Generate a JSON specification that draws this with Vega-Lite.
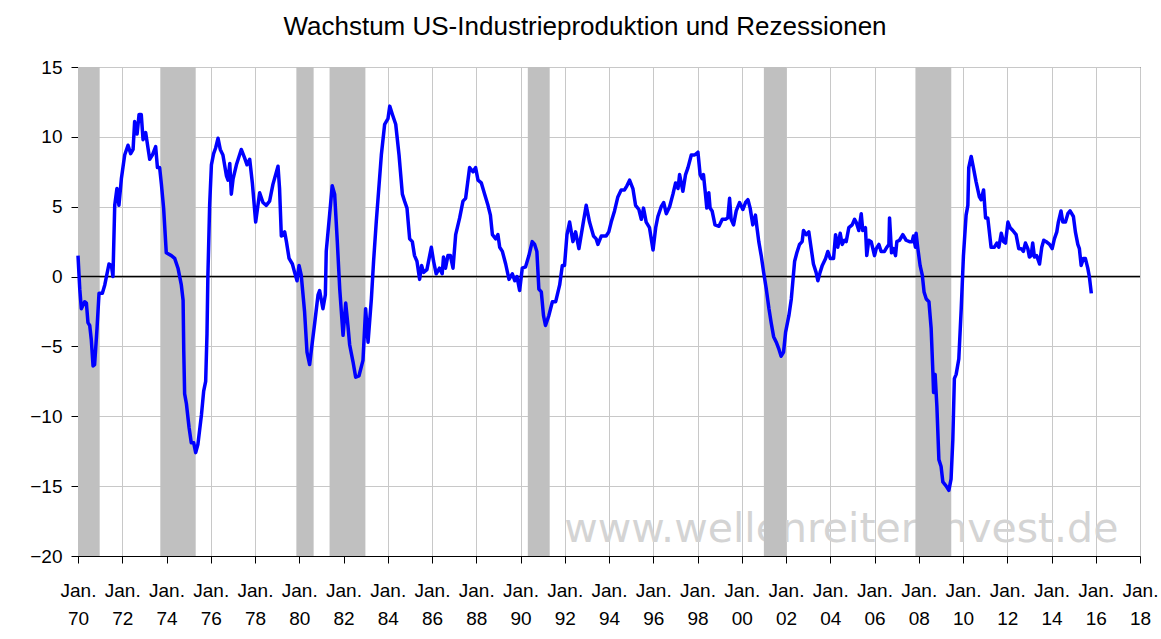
{
  "$schema": "https://vega.github.io/schema/vega-lite/v6.json",
  "width": 1062,
  "height": 489,
  "autosize": "none",
  "padding": {"left": 78, "top": 67, "right": 21, "bottom": 83},
  "background": "white",
  "title": {
    "text": "Wachstum US-Industrieproduktion und Rezessionen",
    "font": "Liberation Sans",
    "fontSize": 26,
    "fontWeight": "normal",
    "color": "black",
    "anchor": "middle",
    "baseline": "alphabetic",
    "offset": 33,
    "dy": 36,
    "dx": -24
  },
  "config": {
    "view": {"stroke": "black", "strokeWidth": 1},
    "axis": {
      "labelFont": "Liberation Sans",
      "labelFontSize": 19,
      "labelColor": "black",
      "domainColor": "black",
      "domainWidth": 1,
      "tickColor": "black",
      "tickSize": 7,
      "gridColor": "#c8c8c8",
      "gridWidth": 1
    }
  },
  "datasets": {
    "rez": [
      {"start": 1970.0, "end": 1970.98},
      {"start": 1973.72, "end": 1975.32},
      {"start": 1979.87, "end": 1980.65},
      {"start": 1981.37, "end": 1982.99},
      {"start": 1990.33, "end": 1991.32},
      {"start": 2001.0, "end": 2002.01},
      {"start": 2007.85, "end": 2009.47}
    ],
    "ip": [
      {"t":1970.00,"v":1.5},{"t":1970.08,"v":-0.9},{"t":1970.15,"v":-2.3},{"t":1970.30,"v":-1.8},{"t":1970.38,"v":-1.9},{"t":1970.45,"v":-3.3},{"t":1970.53,"v":-3.5},{"t":1970.60,"v":-4.5},{"t":1970.68,"v":-6.4},{"t":1970.75,"v":-6.3},{"t":1970.86,"v":-3.7},{"t":1970.95,"v":-1.2},
      {"t":1971.10,"v":-1.2},{"t":1971.21,"v":-0.6},{"t":1971.40,"v":0.9},{"t":1971.51,"v":0.8},{"t":1971.58,"v":0.0},{"t":1971.66,"v":5.1},{"t":1971.76,"v":6.3},{"t":1971.85,"v":5.1},{"t":1971.96,"v":7.0},
      {"t":1972.11,"v":8.7},{"t":1972.26,"v":9.4},{"t":1972.38,"v":8.8},{"t":1972.49,"v":9.1},{"t":1972.56,"v":11.1},{"t":1972.67,"v":10.2},{"t":1972.76,"v":11.6},{"t":1972.86,"v":11.6},{"t":1972.94,"v":9.8},
      {"t":1973.06,"v":10.3},{"t":1973.24,"v":8.4},{"t":1973.36,"v":8.7},{"t":1973.51,"v":9.3},{"t":1973.59,"v":7.8},{"t":1973.69,"v":7.8},{"t":1973.77,"v":6.6},{"t":1973.87,"v":4.9},{"t":1973.99,"v":1.7},
      {"t":1974.22,"v":1.5},{"t":1974.37,"v":1.3},{"t":1974.52,"v":0.6},{"t":1974.67,"v":-0.6},{"t":1974.75,"v":-1.7},{"t":1974.78,"v":-5.3},{"t":1974.82,"v":-8.4},{"t":1974.90,"v":-9.1},
      {"t":1975.02,"v":-10.8},{"t":1975.12,"v":-11.9},{"t":1975.23,"v":-11.9},{"t":1975.32,"v":-12.6},{"t":1975.42,"v":-12.0},{"t":1975.58,"v":-9.9},{"t":1975.68,"v":-8.2},{"t":1975.77,"v":-7.5},{"t":1975.83,"v":-4.1},{"t":1975.87,"v":0.0},{"t":1975.90,"v":1.9},{"t":1975.95,"v":5.1},
      {"t":1976.03,"v":8.0},{"t":1976.13,"v":8.8},{"t":1976.22,"v":9.2},{"t":1976.33,"v":9.9},{"t":1976.43,"v":9.1},{"t":1976.55,"v":8.7},{"t":1976.71,"v":7.2},{"t":1976.78,"v":6.9},{"t":1976.86,"v":8.1},{"t":1976.93,"v":5.9},
      {"t":1977.01,"v":7.0},{"t":1977.16,"v":8.0},{"t":1977.38,"v":9.1},{"t":1977.53,"v":8.5},{"t":1977.64,"v":8.0},{"t":1977.76,"v":8.4},{"t":1977.88,"v":6.7},
      {"t":1978.03,"v":3.9},{"t":1978.21,"v":6.0},{"t":1978.36,"v":5.3},{"t":1978.51,"v":5.1},{"t":1978.66,"v":5.4},{"t":1978.81,"v":6.6},
      {"t":1979.04,"v":7.9},{"t":1979.11,"v":6.3},{"t":1979.19,"v":2.9},{"t":1979.34,"v":3.2},{"t":1979.42,"v":2.5},{"t":1979.54,"v":1.3},{"t":1979.69,"v":0.9},{"t":1979.79,"v":0.3},{"t":1979.90,"v":-0.3},{"t":1979.99,"v":0.8},
      {"t":1980.09,"v":0.1},{"t":1980.24,"v":-2.5},{"t":1980.35,"v":-5.4},{"t":1980.47,"v":-6.3},{"t":1980.59,"v":-4.7},{"t":1980.70,"v":-3.3},{"t":1980.85,"v":-1.3},{"t":1980.92,"v":-1.0},
      {"t":1981.07,"v":-2.3},{"t":1981.18,"v":-1.3},{"t":1981.22,"v":1.8},{"t":1981.37,"v":4.4},{"t":1981.49,"v":6.5},{"t":1981.60,"v":5.9},{"t":1981.72,"v":2.5},{"t":1981.83,"v":-0.9},{"t":1981.98,"v":-4.2},
      {"t":1982.10,"v":-1.9},{"t":1982.20,"v":-3.5},{"t":1982.28,"v":-4.9},{"t":1982.43,"v":-6.1},{"t":1982.55,"v":-7.2},{"t":1982.70,"v":-7.1},{"t":1982.88,"v":-6.0},
      {"t":1983.00,"v":-2.3},{"t":1983.11,"v":-4.7},{"t":1983.26,"v":-1.6},{"t":1983.36,"v":1.1},{"t":1983.48,"v":3.9},{"t":1983.71,"v":8.7},{"t":1983.86,"v":10.9},
      {"t":1984.01,"v":11.3},{"t":1984.09,"v":12.2},{"t":1984.21,"v":11.6},{"t":1984.36,"v":10.9},{"t":1984.51,"v":8.7},{"t":1984.66,"v":5.9},{"t":1984.76,"v":5.4},{"t":1984.87,"v":4.9},{"t":1984.99,"v":2.7},
      {"t":1985.11,"v":2.5},{"t":1985.21,"v":1.5},{"t":1985.32,"v":1.1},{"t":1985.44,"v":-0.2},{"t":1985.53,"v":0.8},{"t":1985.62,"v":0.3},{"t":1985.77,"v":0.5},{"t":1985.97,"v":2.1},
      {"t":1986.07,"v":1.1},{"t":1986.19,"v":0.2},{"t":1986.34,"v":0.6},{"t":1986.46,"v":0.2},{"t":1986.52,"v":1.4},{"t":1986.61,"v":0.6},{"t":1986.72,"v":1.5},{"t":1986.83,"v":1.5},{"t":1986.95,"v":0.6},
      {"t":1987.07,"v":3.0},{"t":1987.25,"v":4.2},{"t":1987.40,"v":5.4},{"t":1987.52,"v":5.6},{"t":1987.70,"v":7.8},{"t":1987.85,"v":7.5},{"t":1987.97,"v":7.8},
      {"t":1988.08,"v":6.9},{"t":1988.23,"v":6.7},{"t":1988.38,"v":5.9},{"t":1988.53,"v":5.1},{"t":1988.64,"v":4.4},{"t":1988.73,"v":3.0},{"t":1988.88,"v":2.7},{"t":1988.98,"v":3.0},
      {"t":1989.06,"v":2.1},{"t":1989.18,"v":1.8},{"t":1989.33,"v":0.9},{"t":1989.48,"v":-0.2},{"t":1989.63,"v":0.2},{"t":1989.74,"v":-0.3},{"t":1989.84,"v":0.0},{"t":1989.96,"v":-1.0},
      {"t":1990.08,"v":0.6},{"t":1990.23,"v":0.7},{"t":1990.38,"v":1.5},{"t":1990.53,"v":2.5},{"t":1990.64,"v":2.3},{"t":1990.74,"v":1.8},{"t":1990.83,"v":-0.9},{"t":1990.94,"v":-1.1},
      {"t":1991.04,"v":-2.8},{"t":1991.13,"v":-3.5},{"t":1991.28,"v":-2.8},{"t":1991.44,"v":-1.8},{"t":1991.59,"v":-1.8},{"t":1991.77,"v":-0.6},{"t":1991.89,"v":0.8},{"t":1991.99,"v":0.8},
      {"t":1992.10,"v":3.0},{"t":1992.22,"v":3.9},{"t":1992.37,"v":2.5},{"t":1992.49,"v":3.2},{"t":1992.64,"v":2.0},{"t":1992.82,"v":3.7},{"t":1992.97,"v":5.1},
      {"t":1993.12,"v":3.9},{"t":1993.30,"v":2.9},{"t":1993.42,"v":2.7},{"t":1993.50,"v":2.3},{"t":1993.65,"v":2.9},{"t":1993.87,"v":2.9},{"t":1993.99,"v":3.2},
      {"t":1994.10,"v":3.9},{"t":1994.25,"v":4.7},{"t":1994.40,"v":5.7},{"t":1994.55,"v":6.2},{"t":1994.70,"v":6.2},{"t":1994.81,"v":6.5},{"t":1994.93,"v":6.9},
      {"t":1995.08,"v":6.3},{"t":1995.20,"v":5.1},{"t":1995.35,"v":4.8},{"t":1995.46,"v":4.1},{"t":1995.56,"v":4.9},{"t":1995.68,"v":3.9},{"t":1995.83,"v":3.5},{"t":1995.99,"v":1.9},
      {"t":1996.11,"v":3.5},{"t":1996.21,"v":4.3},{"t":1996.36,"v":5.0},{"t":1996.47,"v":5.3},{"t":1996.59,"v":4.5},{"t":1996.74,"v":5.0},{"t":1996.89,"v":5.9},
      {"t":1997.01,"v":6.7},{"t":1997.12,"v":6.3},{"t":1997.19,"v":7.3},{"t":1997.34,"v":6.1},{"t":1997.46,"v":7.3},{"t":1997.57,"v":7.8},{"t":1997.72,"v":8.7},{"t":1997.87,"v":8.7},
      {"t":1998.02,"v":8.9},{"t":1998.12,"v":7.3},{"t":1998.21,"v":7.0},{"t":1998.27,"v":7.3},{"t":1998.36,"v":5.9},{"t":1998.42,"v":4.9},{"t":1998.51,"v":6.0},{"t":1998.57,"v":4.9},{"t":1998.66,"v":4.7},{"t":1998.79,"v":3.7},{"t":1998.97,"v":3.6},
      {"t":1999.12,"v":4.1},{"t":1999.27,"v":4.1},{"t":1999.37,"v":4.2},{"t":1999.45,"v":5.6},{"t":1999.52,"v":4.1},{"t":1999.63,"v":3.7},{"t":1999.75,"v":4.7},{"t":1999.90,"v":5.3},
      {"t":2000.05,"v":4.8},{"t":2000.17,"v":5.3},{"t":2000.28,"v":5.5},{"t":2000.38,"v":4.9},{"t":2000.50,"v":3.7},{"t":2000.62,"v":4.4},{"t":2000.68,"v":3.6},{"t":2000.77,"v":2.5},{"t":2000.88,"v":1.5},{"t":2000.99,"v":0.3},
      {"t":2001.11,"v":-0.9},{"t":2001.23,"v":-2.3},{"t":2001.33,"v":-3.3},{"t":2001.44,"v":-4.3},{"t":2001.56,"v":-4.7},{"t":2001.68,"v":-5.2},{"t":2001.78,"v":-5.7},{"t":2001.89,"v":-5.4},{"t":2001.98,"v":-4.0},
      {"t":2002.13,"v":-2.8},{"t":2002.24,"v":-1.6},{"t":2002.39,"v":1.1},{"t":2002.49,"v":1.7},{"t":2002.61,"v":2.3},{"t":2002.73,"v":2.5},{"t":2002.79,"v":3.3},{"t":2002.91,"v":3.0},
      {"t":2003.03,"v":3.2},{"t":2003.14,"v":2.0},{"t":2003.24,"v":0.9},{"t":2003.36,"v":0.3},{"t":2003.44,"v":-0.3},{"t":2003.54,"v":0.3},{"t":2003.64,"v":0.8},{"t":2003.79,"v":1.3},{"t":2003.89,"v":1.8},
      {"t":2004.00,"v":1.3},{"t":2004.15,"v":1.3},{"t":2004.24,"v":3.0},{"t":2004.34,"v":2.1},{"t":2004.45,"v":3.1},{"t":2004.54,"v":2.3},{"t":2004.64,"v":2.6},{"t":2004.72,"v":2.5},{"t":2004.84,"v":3.5},{"t":2004.99,"v":3.7},
      {"t":2005.10,"v":4.1},{"t":2005.17,"v":3.9},{"t":2005.29,"v":3.3},{"t":2005.40,"v":4.5},{"t":2005.47,"v":3.3},{"t":2005.59,"v":3.5},{"t":2005.65,"v":1.5},{"t":2005.74,"v":2.6},{"t":2005.85,"v":2.5},
      {"t":2006.00,"v":1.5},{"t":2006.08,"v":2.0},{"t":2006.20,"v":2.3},{"t":2006.30,"v":1.8},{"t":2006.45,"v":1.8},{"t":2006.56,"v":2.1},{"t":2006.65,"v":2.3},{"t":2006.68,"v":4.2},{"t":2006.77,"v":1.7},{"t":2006.86,"v":2.0},{"t":2006.95,"v":1.5},
      {"t":2007.01,"v":2.5},{"t":2007.13,"v":2.6},{"t":2007.28,"v":3.0},{"t":2007.43,"v":2.6},{"t":2007.58,"v":2.5},{"t":2007.70,"v":2.5},{"t":2007.76,"v":2.9},{"t":2007.85,"v":2.1},{"t":2007.88,"v":3.1},{"t":2007.96,"v":2.0},
      {"t":2008.06,"v":0.8},{"t":2008.16,"v":0.1},{"t":2008.24,"v":-1.1},{"t":2008.34,"v":-1.6},{"t":2008.46,"v":-1.8},{"t":2008.56,"v":-3.7},{"t":2008.64,"v":-6.9},{"t":2008.67,"v":-8.3},{"t":2008.74,"v":-7.0},{"t":2008.82,"v":-9.3},{"t":2008.91,"v":-13.1},
      {"t":2009.01,"v":-13.6},{"t":2009.09,"v":-14.7},{"t":2009.24,"v":-15.0},{"t":2009.36,"v":-15.3},{"t":2009.46,"v":-14.5},{"t":2009.54,"v":-11.7},{"t":2009.61,"v":-7.3},{"t":2009.69,"v":-7.0},{"t":2009.81,"v":-5.9},{"t":2009.92,"v":-2.3},
      {"t":2010.02,"v":1.5},{"t":2010.14,"v":4.4},{"t":2010.22,"v":5.1},{"t":2010.26,"v":7.8},{"t":2010.37,"v":8.6},{"t":2010.47,"v":7.8},{"t":2010.59,"v":6.8},{"t":2010.74,"v":5.7},{"t":2010.82,"v":5.5},{"t":2010.93,"v":6.2},
      {"t":2011.02,"v":4.2},{"t":2011.12,"v":4.2},{"t":2011.27,"v":2.1},{"t":2011.42,"v":2.1},{"t":2011.53,"v":2.4},{"t":2011.62,"v":2.1},{"t":2011.73,"v":3.1},{"t":2011.83,"v":2.5},{"t":2011.92,"v":2.4},
      {"t":2012.03,"v":3.9},{"t":2012.13,"v":3.5},{"t":2012.25,"v":3.3},{"t":2012.40,"v":3.0},{"t":2012.52,"v":2.0},{"t":2012.63,"v":2.0},{"t":2012.73,"v":1.8},{"t":2012.82,"v":2.4},{"t":2012.93,"v":2.0},
      {"t":2013.00,"v":1.4},{"t":2013.08,"v":1.5},{"t":2013.15,"v":2.4},{"t":2013.23,"v":1.4},{"t":2013.33,"v":1.5},{"t":2013.46,"v":0.9},{"t":2013.56,"v":2.1},{"t":2013.65,"v":2.6},{"t":2013.76,"v":2.5},{"t":2013.91,"v":2.3},
      {"t":2014.03,"v":2.0},{"t":2014.13,"v":2.7},{"t":2014.24,"v":3.2},{"t":2014.31,"v":3.9},{"t":2014.43,"v":4.7},{"t":2014.51,"v":3.9},{"t":2014.63,"v":3.9},{"t":2014.74,"v":4.5},{"t":2014.84,"v":4.7},{"t":2014.99,"v":4.3},
      {"t":2015.08,"v":3.2},{"t":2015.19,"v":2.3},{"t":2015.26,"v":2.0},{"t":2015.34,"v":0.8},{"t":2015.44,"v":1.3},{"t":2015.53,"v":1.3},{"t":2015.64,"v":0.6},{"t":2015.71,"v":0.0},{"t":2015.80,"v":-1.2}
    ]
  },
  "layer": [
    {
      "data": {"values": [{"wm": "www.wellenreiter-invest.de"}]},
      "mark": {"type": "text", "font": "DejaVu Sans", "fontSize": 41, "color": "#d4d4d4", "align": "center", "baseline": "alphabetic"},
      "encoding": {
        "text": {"field": "wm"},
        "x": {"datum": 2004.5, "type": "quantitative", "title": null},
        "y": {"datum": -18.97, "type": "quantitative", "title": null}
      }
    },
    {
      "data": {"name": "rez"},
      "mark": {"type": "rect", "color": "#c0c0c0"},
      "encoding": {
        "x": {"field": "start", "type": "quantitative", "title": null},
        "x2": {"field": "end"}
      }
    },
    {
      "data": {"values": [{"z": 0}]},
      "mark": {"type": "rule", "color": "black", "strokeWidth": 1.5},
      "encoding": {
        "y": {"field": "z", "type": "quantitative", "title": null}
      }
    },
    {
      "data": {"name": "ip"},
      "mark": {"type": "line", "color": "#0000ff", "strokeWidth": 3.5, "strokeJoin": "round"},
      "encoding": {
        "x": {
          "field": "t",
          "type": "quantitative",
          "title": null,
          "scale": {"domain": [1970, 2018], "nice": false, "zero": false},
          "axis": {
            "values": [1970,1972,1974,1976,1978,1980,1982,1984,1986,1988,1990,1992,1994,1996,1998,2000,2002,2004,2006,2008,2010,2012,2014,2016,2018],
            "labelExpr": "['Jan.', substring(toString(datum.value), 2, 4)]",
            "labelFlush": false,
            "labelOverlap": false,
            "labelPadding": 18,
            "labelLineHeight": 28,
            "grid": true
          }
        },
        "y": {
          "field": "v",
          "type": "quantitative",
          "title": null,
          "scale": {"domain": [-20, 15], "nice": false, "zero": false},
          "axis": {
            "values": [-20,-15,-10,-5,0,5,10,15],
            "labelPadding": 9,
            "labelOverlap": false,
            "labelFlush": false,
            "grid": true
          }
        }
      }
    }
  ]
}
